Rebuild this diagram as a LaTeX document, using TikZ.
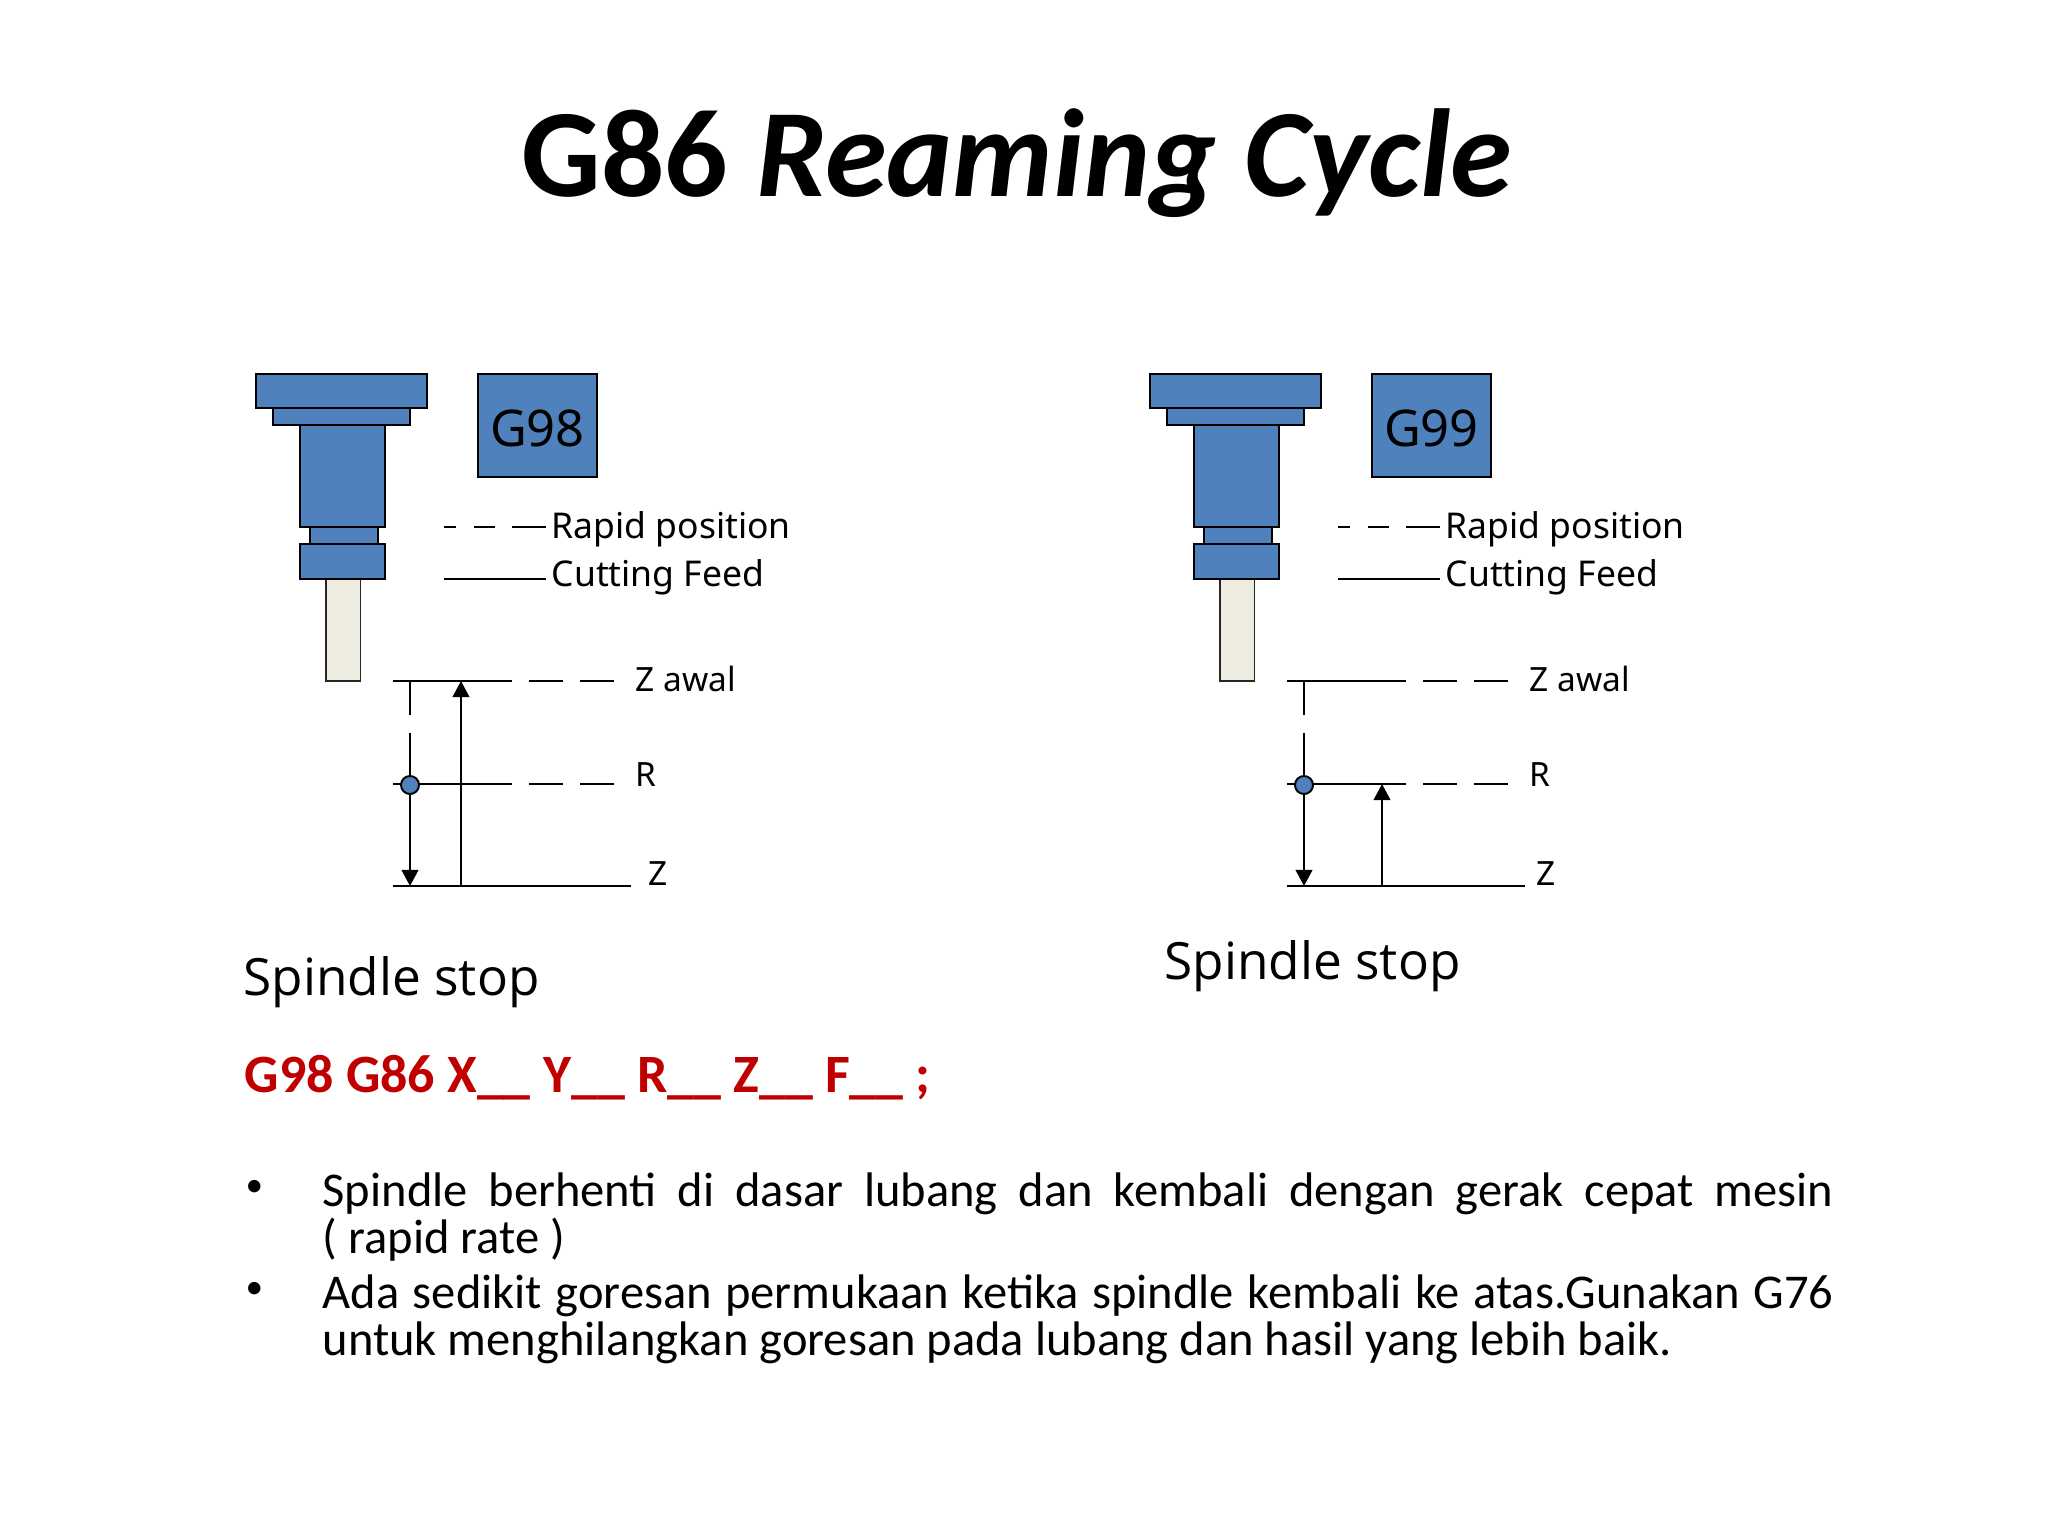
\documentclass[tikz,border=0pt]{standalone}
\usepackage{fontspec}
\setmainfont{Carlito}
\newfontfamily\labelfont{Noto Sans}
\newfontfamily\stopfont{Open Sans}
\usetikzlibrary{arrows.meta}
\definecolor{spindleblue}{HTML}{4F81BD}
\definecolor{toolcream}{HTML}{EEECE1}
\definecolor{codered}{HTML}{C00000}
\tikzset{
    part/.style={draw=black,fill=spindleblue,line width=0.55pt},
    toolpart/.style={draw=black!85,fill=toolcream,line width=0.55pt},
    codebox/.style={part,minimum width=1.19cm,minimum height=1.03cm,inner sep=0pt,text height=0.41cm,text depth=0pt,font=\labelfont\fontsize{14.4}{16}\selectfont},
    legend/.style={anchor=base west,inner sep=0pt,font=\labelfont\fontsize{10.1}{11}\selectfont},
    level/.style={anchor=base west,inner sep=0pt,font=\labelfont\fontsize{9.5}{11}\selectfont},
    stoptext/.style={anchor=base west,inner sep=0pt,font=\stopfont\fontsize{14.6}{17}\selectfont},
    thin line/.style={line width=0.45pt},
    z line/.style={line width=0.6pt},
    move/.style={line width=0.45pt,-{Triangle[length=4.6pt,width=4.8pt]}},
    bulletpar/.style={anchor=north west,inner sep=0pt,text width=15.1cm,align=justify,font=\fontsize{13.8}{13.4}\selectfont},
    dotmark/.style={anchor=base west,inner sep=0pt,font=\fontsize{10}{12}\selectfont},
}
\begin{document}
\begin{tikzpicture}[x=0.01cm,y=-0.01cm]
    \useasboundingbox (0,0) rectangle (2048,1536);

    \node[anchor=base,inner sep=0pt,font=\fontsize{35.6}{40}\selectfont\bfseries] (title) at (1017,196) {G86 \textit{Reaming Cycle}};

    \foreach \side/\dx/\code in {l/0/G98,r/894/G99} {
        \begin{scope}[xshift=\dx*0.01cm]
            % spindle
            \draw[toolpart] (326,579) rectangle (360.5,681);
            \draw[part] (256,374) rectangle (427,408);
            \draw[part] (273,408) rectangle (410,425);
            \draw[part] (300,425) rectangle (385,527);
            \draw[part] (310,527) rectangle (378,544);
            \draw[part] (300,544) rectangle (385,579);
            \node[codebox] (code\side) at (537.5,425.5) {\code};

            % legend
            \draw[thin line] (444,527) -- (456,527);
            \draw[thin line] (474,527) -- (495,527);
            \draw[thin line] (512,527) -- (546,527);
            \draw[thin line] (444,579) -- (546,579);
            \node[legend] (rapid\side) at (551,538) {Rapid position};
            \node[legend] (feed\side) at (551,586) {Cutting Feed};

            % levels
            \foreach \lvl/\y in {awal/681,ref/784} {
                \coordinate (\lvl\side) at (393,\y);
                \draw[thin line] (393,\y) -- (512,\y);
                \draw[thin line] (529,\y) -- (563,\y);
                \draw[thin line] (580,\y) -- (614,\y);
            }
            \coordinate (start\side) at (410,681);
            \coordinate (gap\side) at (410,715);
            \coordinate (resume\side) at (410,733);
            \coordinate (bottom\side) at (410,886);
            \draw[z line] (393,886) -- (631,886);
            \draw[thin line] (start\side) -- (gap\side);
            \draw[move] (resume\side) -- (bottom\side);
            \node[part,circle,inner sep=0pt,minimum width=0.18cm] (point\side) at (410,785) {};
            \node[level] (lawal\side) at (635,691) {Z awal};
            \node[level] (lref\side) at (635,786) {R};
        \end{scope}
    }

    \coordinate (upl) at (461,886);
    \coordinate (tol) at (461,681);
    \draw[move] (upl) -- (tol);
    \coordinate (upr) at (1382,886);
    \coordinate (tor) at (1382,784);
    \draw[move] (upr) -- (tor);
    \node[level] (lzl) at (648,885) {Z};
    \node[level] (lzr) at (1536,885) {Z};

    \node[stoptext] (stopl) at (243,995) {Spindle stop};
    \node[stoptext] (stopr) at (1164,979) {Spindle stop};

    \node[anchor=base west,inner sep=0pt,text=codered,font=\fontsize{15.35}{17}\selectfont\bfseries] (format) at (244,1092) {G98 G86 X\_\_ Y\_\_ R\_\_ Z\_\_ F\_\_ ;};

    \node[dotmark] (dota) at (245,1196) {•};
    \node[dotmark] (dotb) at (245,1298) {•};
    \node[bulletpar] (para) at (322,1172) {Spindle berhenti di dasar lubang dan kembali dengan gerak cepat mesin\linebreak ( rapid rate )};
    \node[bulletpar] (parb) at (322,1274) {Ada sedikit goresan permukaan ketika spindle kembali ke atas.Gunakan G76 untuk menghilangkan goresan pada lubang dan hasil yang lebih baik.};
\end{tikzpicture}
\end{document}
